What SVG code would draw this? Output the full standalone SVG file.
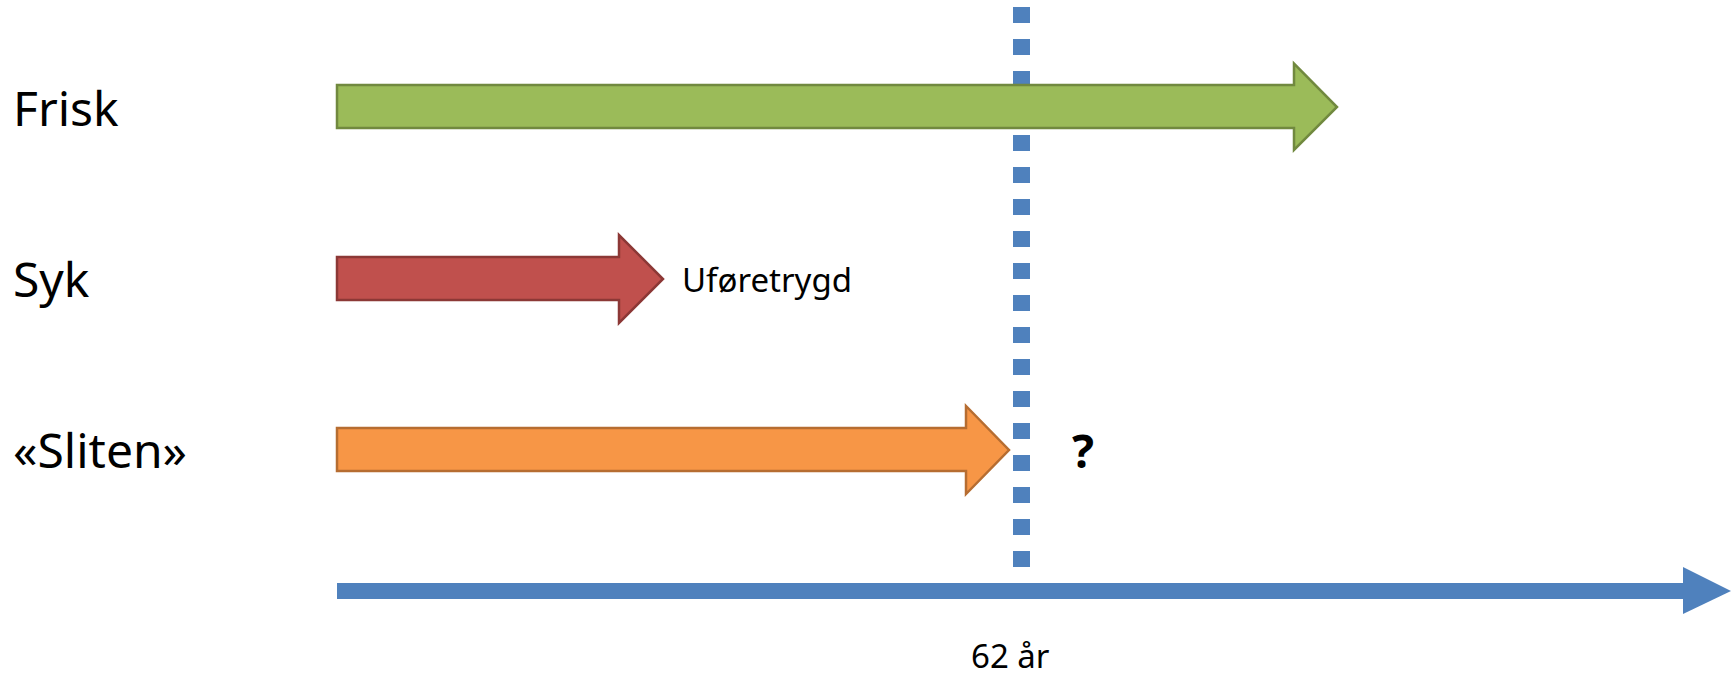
<svg xmlns="http://www.w3.org/2000/svg" width="1733" height="677" viewBox="0 0 1733 677">
<style>
.lbl{font-family:"Noto Sans","Open Sans","Liberation Sans",sans-serif;fill:#000}
.big{font-size:48px}
.small{font-size:33px}
.axis{font-size:33px}
.q{font-size:46px;font-weight:bold}
</style>
<rect width="1733" height="677" fill="#fff"/>
<g id="connectors">
<line id="line62" x1="1021.5" y1="7" x2="1021.5" y2="567" stroke="#4F81BD" stroke-width="17" stroke-dasharray="16 16"/>
<g id="timeaxis">
<rect x="337" y="583" width="1347" height="16" fill="#4F81BD"/>
<polygon points="1683,567 1731,591 1683,614" fill="#4F81BD"/>
</g>
</g>
<g id="frisk">
<text class="lbl big" x="13" y="126">Frisk</text>
<polygon points="337,85 1294,85 1294,63.5 1337,107 1294,150 1294,128 337,128" fill="#9BBB59" stroke="#71893F" stroke-width="2.5"/>
</g>
<g id="syk">
<text class="lbl big" x="13" y="297">Syk</text>
<polygon points="337,257 619,257 619,235 663,279 619,323 619,300 337,300" fill="#C0504D" stroke="#8C3836" stroke-width="2.5"/>
<text class="lbl small" x="682" y="292">Uføretrygd</text>
</g>
<g id="sliten">
<text class="lbl big" x="13" y="468">«Sliten»</text>
<polygon points="337,428 966,428 966,406 1009,450 966,494 966,471 337,471" fill="#F79646" stroke="#B66D31" stroke-width="2.5"/>
<text class="lbl q" x="1072" y="468">?</text>
</g>
<g id="label62">
<text class="lbl axis" x="971" y="668">62 år</text>
</g>
</svg>
